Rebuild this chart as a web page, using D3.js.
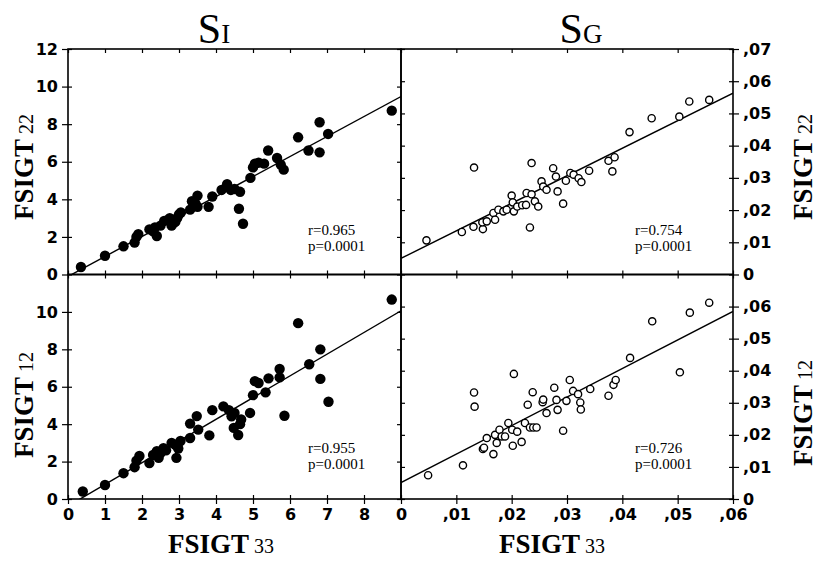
<!DOCTYPE html>
<html>
<head>
<meta charset="utf-8">
<script src="https://cdn.jsdelivr.net/npm/d3@7"></script>
<style>
  body { margin: 0; background: #fff; }
  svg { display: block; }
</style>
</head>
<body>
<svg id="chart" width="821" height="563"></svg>
<script>
// values: [FSIGT33, FSIGT22/12]
const siFsigt22 = [
  [0.35,0.4],[1.0,1.0],[1.5,1.5],[1.8,1.7],[1.85,2.0],[1.9,2.15],[2.2,2.4],[2.3,2.3],[2.4,2.05],
  [2.35,2.5],[2.5,2.6],[2.6,2.85],[2.7,2.9],[2.8,2.6],[2.85,2.75],[2.9,2.8],[2.95,3.0],[3.0,3.2],
  [3.05,3.3],[2.75,3.0],[3.3,3.45],[3.35,3.9],[3.5,4.2],[3.5,3.6],[3.45,3.75],[3.8,3.6],[3.9,4.15],
  [4.15,4.5],[4.3,4.8],[4.4,4.5],[4.5,4.55],[4.65,4.4],[4.62,3.5],[4.73,2.7],[4.93,5.14],[5.0,5.7],
  [5.05,5.9],[5.15,5.95],[5.3,5.9],[5.41,6.6],[5.65,6.2],[5.75,5.85],[5.83,5.58],[6.22,7.3],
  [6.5,6.6],[6.8,8.1],[6.8,6.5],[7.03,7.48],[8.75,8.72]
];
const siFsigt12 = [
  [0.4,0.4],[1.0,0.75],[1.5,1.38],[1.8,1.7],[1.85,2.05],[1.93,2.3],[2.2,1.92],[2.3,2.35],[2.4,2.55],
  [2.45,2.2],[2.5,2.45],[2.58,2.72],[2.65,2.6],[2.8,3.0],[2.93,2.2],[2.98,2.7],[3.04,3.1],[2.9,2.9],
  [3.3,3.26],[3.3,4.03],[3.48,4.43],[3.52,3.71],[3.82,3.4],[3.9,4.75],[4.2,4.95],[4.35,4.75],
  [4.42,4.42],[4.5,4.6],[4.48,3.8],[4.6,3.42],[4.65,4.0],[4.68,4.25],[4.92,4.6],[5.0,5.55],
  [5.05,6.3],[5.15,6.2],[5.34,5.7],[5.42,6.45],[5.72,6.95],[5.72,6.5],[5.85,4.45],[6.22,9.4],
  [6.52,7.2],[6.82,8.0],[6.82,6.42],[7.04,5.2],[8.75,10.66]
];
const sgFsigt22 = [
  [0.0046,0.0106],[0.011,0.0132],[0.0131,0.0148],[0.0132,0.0332],[0.0148,0.0141],[0.0147,0.0162],
  [0.0155,0.0165],[0.0167,0.0191],[0.017,0.017],[0.0176,0.0201],[0.0185,0.0196],[0.0191,0.0201],
  [0.02,0.0245],[0.0202,0.0224],[0.0204,0.0196],[0.021,0.0211],[0.0219,0.0215],[0.0226,0.0216],
  [0.0227,0.0253],[0.0233,0.0146],[0.0236,0.0346],[0.0236,0.0249],[0.0242,0.0227],[0.0248,0.0211],
  [0.0254,0.0289],[0.0257,0.0273],[0.0263,0.0263],[0.0275,0.033],[0.028,0.0304],[0.0283,0.0258],
  [0.0293,0.022],[0.0298,0.0291],[0.0306,0.0315],[0.0312,0.031],[0.0321,0.0299],[0.0326,0.0287],
  [0.034,0.0322],[0.0375,0.0353],[0.0386,0.0364],[0.0382,0.032],[0.0413,0.0442],[0.0453,0.0485],
  [0.0503,0.049],[0.0521,0.0537],[0.0557,0.0542]
];
const sgFsigt12 = [
  [0.0049,0.0074],[0.0112,0.0105],[0.0132,0.0332],[0.0133,0.0288],[0.0148,0.0156],[0.015,0.016],
  [0.0155,0.019],[0.0167,0.014],[0.017,0.02],[0.0173,0.0175],[0.0178,0.0216],[0.0182,0.0195],
  [0.0188,0.0195],[0.0194,0.0237],[0.0202,0.0166],[0.0204,0.039],[0.0201,0.0216],[0.021,0.021],
  [0.0218,0.0178],[0.0224,0.0237],[0.0229,0.0294],[0.0233,0.0223],[0.0239,0.0223],[0.0245,0.0223],
  [0.0238,0.0333],[0.0256,0.0302],[0.0257,0.031],[0.0263,0.0268],[0.0277,0.0347],[0.0281,0.0309],
  [0.0283,0.0278],[0.0293,0.0213],[0.0299,0.0306],[0.0305,0.0371],[0.0311,0.0337],[0.032,0.0327],
  [0.0324,0.0301],[0.0325,0.0279],[0.0342,0.0343],[0.0375,0.0322],[0.0384,0.0356],[0.0388,0.0371],
  [0.0414,0.044],[0.0454,0.0554],[0.0504,0.0395],[0.0522,0.0581],[0.0557,0.0612]
];

// regression lines y = a + b*x, panels TL, BL, TR, BR
const fitIntercepts = [-0.106, -0.38, 0.005, 0.0051];
const fitSlopes = [1.064, 1.16, 0.855, 0.89];
const fitR = ["r=0.965", "r=0.955", "r=0.754", "r=0.726"];
const fitP = ["p=0.0001", "p=0.0001", "p=0.0001", "p=0.0001"];

const siXTicks = [0, 1, 2, 3, 4, 5, 6, 7, 8];
const sgXTicks = [0, 0.01, 0.02, 0.03, 0.04, 0.05, 0.06];
const siYTicksTop = [0, 2, 4, 6, 8, 10, 12];
const siYTicksBottom = [0, 2, 4, 6, 8, 10];
const sgYTicksTop = [0, 0.01, 0.02, 0.03, 0.04, 0.05, 0.06, 0.07];
const sgYTicksBottom = [0, 0.01, 0.02, 0.03, 0.04, 0.05, 0.06];

const svg = d3.select("#chart");

const xSI = d3.scaleLinear().domain([0, 9]).range([68, 401]);
const xSG = d3.scaleLinear().domain([0, 0.06]).range([401, 733]);
const yTop = [49, 274.5];
const yBot = [274.5, 499];

const commaFmt = (v) => (v === 0 ? "0" : d3.format(".2f")(v).slice(1).replace(".", ","));
const tickFont = "'DejaVu Sans', sans-serif";
const serif = "'Liberation Serif', 'Times New Roman', serif";

const panels = [
  { x: xSI, y: d3.scaleLinear().domain([0, 12]).range([yTop[1], yTop[0]]), data: siFsigt22, filled: true,
    xt: siXTicks, yt: siYTicksTop, side: "left", fmt: (v) => v, bottom: false, tx: 308, ty: 235 },
  { x: xSI, y: d3.scaleLinear().domain([0, 12]).range([yBot[1], yBot[0]]), data: siFsigt12, filled: true,
    xt: siXTicks, yt: siYTicksBottom, side: "left", fmt: (v) => v, bottom: true, tx: 308, ty: 453 },
  { x: xSG, y: d3.scaleLinear().domain([0, 0.07]).range([yTop[1], yTop[0]]), data: sgFsigt22, filled: false,
    xt: sgXTicks, yt: sgYTicksTop, side: "right", fmt: commaFmt, bottom: false, tx: 635, ty: 235 },
  { x: xSG, y: d3.scaleLinear().domain([0, 0.07]).range([yBot[1], yBot[0]]), data: sgFsigt12, filled: false,
    xt: sgXTicks, yt: sgYTicksBottom, side: "right", fmt: commaFmt, bottom: true, tx: 635, ty: 453 }
];

panels.forEach((p, i) => {
  const [xa, xb] = p.x.range();
  const [yb, ya] = p.y.range();
  const g = svg.append("g");

  const clipId = "clip" + i;
  svg.append("clipPath").attr("id", clipId)
    .append("rect").attr("x", xa).attr("y", ya).attr("width", xb - xa).attr("height", yb - ya);

  // inward ticks on all four sides
  const inner = [
    [d3.axisTop(p.x).tickValues(p.xt).tickSize(-4), `translate(0,${ya})`],
    [d3.axisBottom(p.x).tickValues(p.xt).tickSize(-4), `translate(0,${yb})`],
    [d3.axisLeft(p.y).tickValues(p.yt).tickSize(-4), `translate(${xa},0)`],
    [d3.axisRight(p.y).tickValues(p.yt).tickSize(-4), `translate(${xb},0)`]
  ];
  inner.forEach(([ax, tr]) => {
    const a = g.append("g").attr("transform", tr).call(ax.tickFormat(""));
    a.select(".domain").remove();
    a.selectAll("line").attr("stroke", "#000").attr("stroke-width", 1.2);
  });

  // labelled outer axis (y)
  const yAxis = (p.side === "left" ? d3.axisLeft(p.y) : d3.axisRight(p.y))
    .tickValues(p.yt).tickSize(6).tickPadding(4).tickFormat(p.fmt);
  const ya_ = g.append("g")
    .attr("transform", `translate(${p.side === "left" ? xa : xb},0)`)
    .call(yAxis);
  ya_.select(".domain").remove();
  ya_.selectAll("line").attr("stroke", "#000").attr("stroke-width", 1.2);
  ya_.selectAll("text").attr("font-family", tickFont).attr("font-size", 16).attr("font-weight", "bold").attr("fill", "#000");

  if (p.bottom) {
    const xa_ = g.append("g").attr("transform", `translate(0,${yb})`)
      .call(d3.axisBottom(p.x).tickValues(p.xt).tickSize(5).tickPadding(5).tickFormat(p.fmt));
    xa_.select(".domain").remove();
    xa_.selectAll("line").attr("stroke", "#000").attr("stroke-width", 1.2);
    xa_.selectAll("text").attr("font-family", tickFont).attr("font-size", 16).attr("font-weight", "bold").attr("fill", "#000");
  }

  // regression line
  const a = fitIntercepts[i], b = fitSlopes[i];
  const dom = p.x.domain();
  const line = d3.line().x((d) => p.x(d)).y((d) => p.y(a + b * d));
  g.append("path")
    .attr("clip-path", `url(#${clipId})`)
    .attr("d", line(dom))
    .attr("fill", "none")
    .attr("stroke", "#000")
    .attr("stroke-width", 1.4);

  // points
  g.append("g").attr("clip-path", `url(#${clipId})`)
    .selectAll("circle")
    .data(p.data)
    .join("circle")
    .attr("cx", (d) => p.x(d[0]))
    .attr("cy", (d) => p.y(d[1]))
    .attr("r", p.filled ? 5.2 : 3.6)
    .attr("fill", p.filled ? "#000" : "#fff")
    .attr("stroke", "#000")
    .attr("stroke-width", p.filled ? 0 : 1.4);

  // r / p annotation
  const ann = g.append("text")
    .attr("font-family", serif).attr("font-size", 15).attr("fill", "#000");
  ann.append("tspan").attr("x", p.tx).attr("y", p.ty).text(fitR[i]);
  ann.append("tspan").attr("x", p.tx).attr("y", p.ty + 16).text(fitP[i]);

  // frame
  g.append("rect")
    .attr("x", xa).attr("y", ya).attr("width", xb - xa).attr("height", yb - ya)
    .attr("fill", "none").attr("stroke", "#000").attr("stroke-width", 1.6);
});

// column titles
[["S", "I", 214], ["S", "G", 581]].forEach(([big, small, cx]) => {
  const t = svg.append("text").attr("x", cx).attr("y", 43)
    .attr("text-anchor", "middle").attr("font-family", serif).attr("fill", "#000");
  t.append("tspan").attr("font-size", 42).text(big);
  t.append("tspan").attr("font-size", 27).text(small);
});

// axis titles
function fsigt(x, y, sub, rot) {
  const t = svg.append("text")
    .attr("transform", `translate(${x},${y}) rotate(${rot})`)
    .attr("text-anchor", "middle").attr("font-family", serif).attr("fill", "#000");
  t.append("tspan").attr("font-size", 27).attr("font-weight", "bold").text("FSIGT");
  t.append("tspan").attr("font-size", 20).text(" " + sub);
}
fsigt(33, 167, "22", -90);
fsigt(33, 405, "12", -90);
fsigt(812, 167, "22", -90);
fsigt(812, 413, "12", -90);
fsigt(221, 553, "33", 0);
fsigt(552, 553, "33", 0);
</script>
</body>
</html>
